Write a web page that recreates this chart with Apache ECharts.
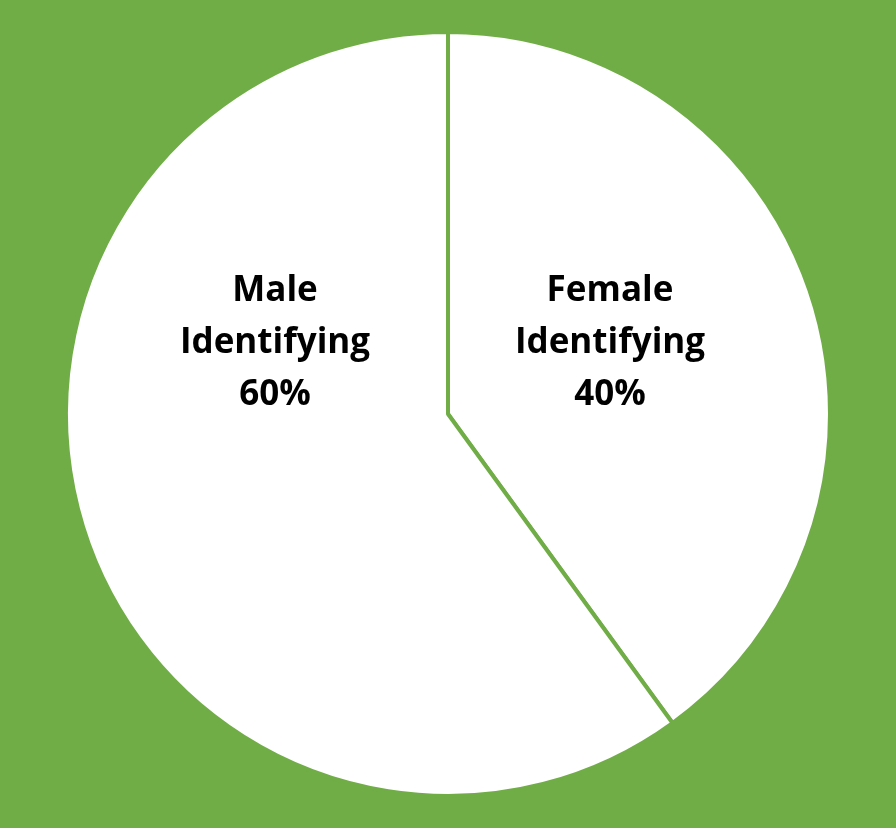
<!DOCTYPE html>
<html>
<head>
<meta charset="utf-8">
<script src="https://cdn.jsdelivr.net/npm/echarts@6/dist/echarts.min.js"></script>
<style>
html,body{margin:0;padding:0;background:#70AD47;}
#chart{width:896px;height:828px;}
</style>
</head>
<body>
<div id="chart"></div>
<script>
const categories = ['Female Identifying', 'Male Identifying'];
const labelNames = ['Female\nIdentifying', 'Male\nIdentifying'];
const values = [40, 60];

const chart = echarts.init(document.getElementById('chart'), null, {renderer: 'canvas'});
const labelPos = [[610, 343], [275, 343]];
chart.setOption({
  backgroundColor: '#70AD47',
  animation: false,
  series: [{
    type: 'pie',
    center: [448, 414],
    radius: [0, 382],
    startAngle: 90,
    clockwise: true,
    silent: true,
    itemStyle: { color: '#ffffff', borderColor: '#70AD47', borderWidth: 4 },
    label: {
      show: true,
      position: 'inside',
      formatter: p => labelNames[p.dataIndex] + '\n' + p.value + '%',
      fontFamily: 'Open Sans',
      fontWeight: 'bold',
      fontSize: 35,
      lineHeight: 52,
      color: '#000000',
      align: 'center',
      verticalAlign: 'middle'
    },
    labelLine: { show: false },
    labelLayout: p => ({ x: labelPos[p.dataIndex][0], y: labelPos[p.dataIndex][1], align: 'center', verticalAlign: 'middle' }),
    data: categories.map((c, i) => ({ name: c, value: values[i] }))
  }]
});
</script>
</body>
</html>
